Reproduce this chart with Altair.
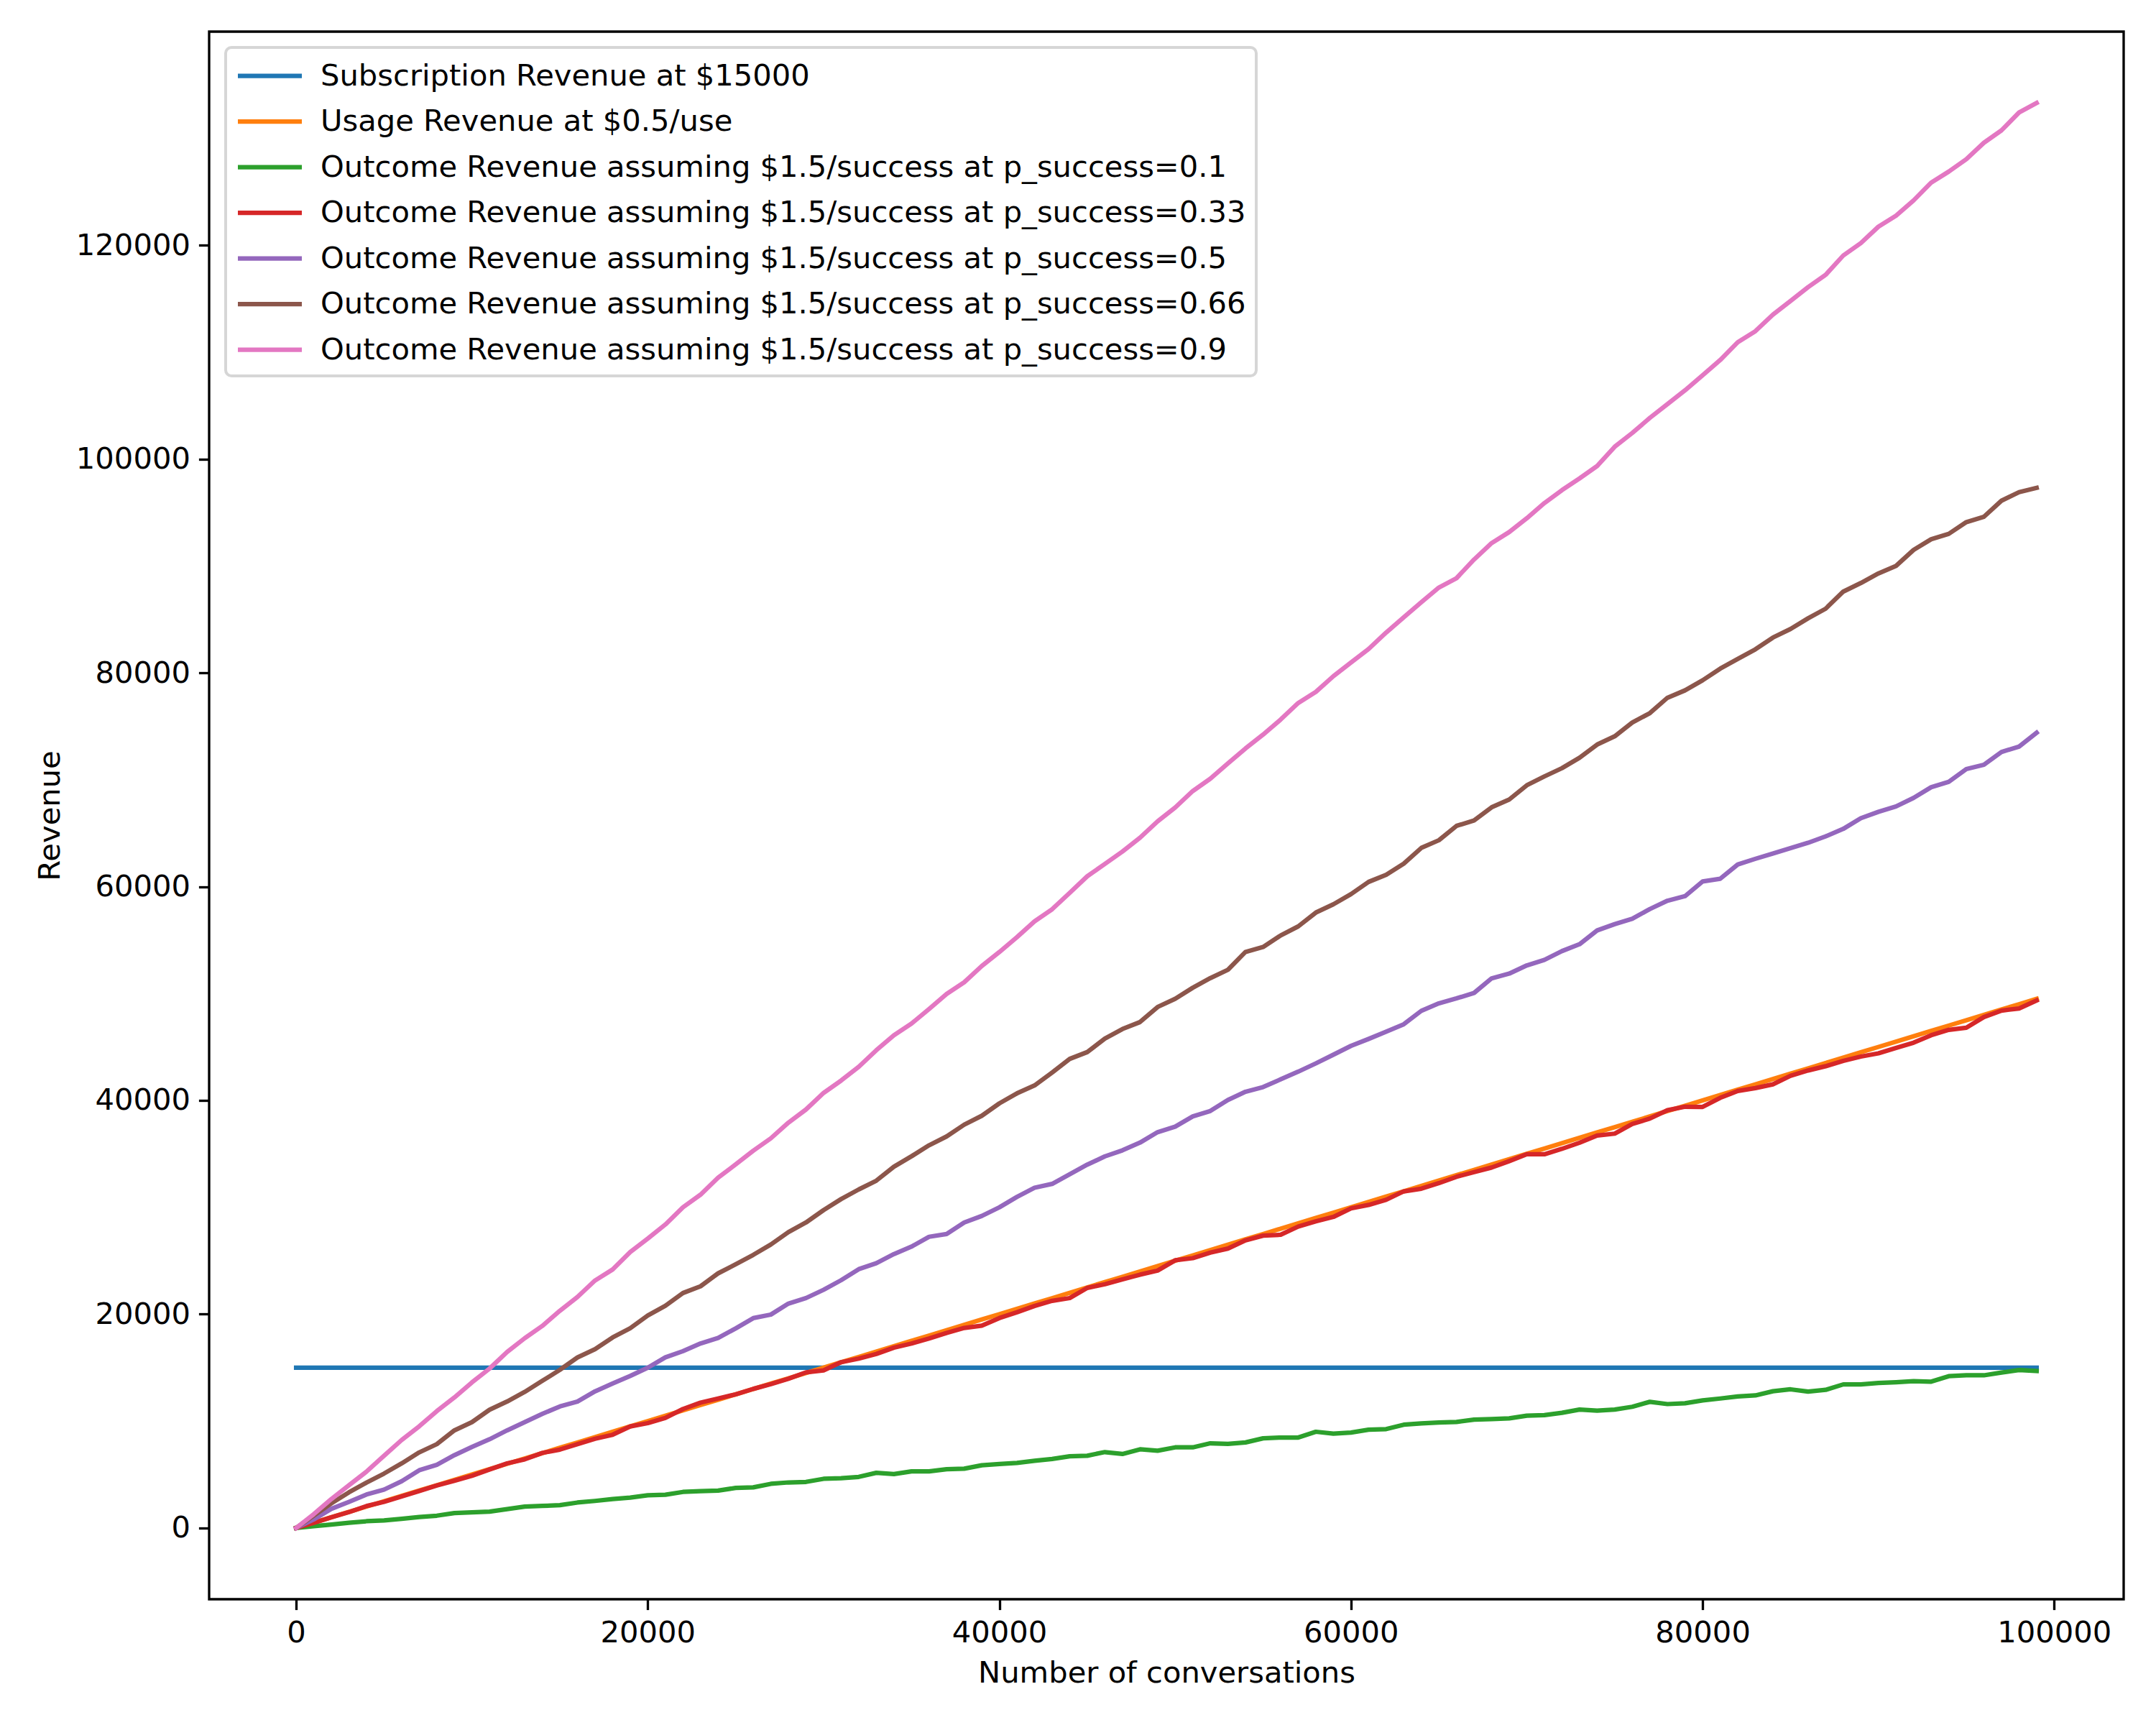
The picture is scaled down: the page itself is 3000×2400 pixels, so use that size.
import altair as alt
import pandas as pd

# ---------------- data ----------------
conversations = list(range(0, 100000, 1000))

subscription_value = 15000
subscription = [subscription_value] * len(conversations)

usage = [
    0, 500, 1000, 1500, 2000, 2500, 3000, 3500, 4000, 4500,
    5000, 5500, 6000, 6500, 7000, 7500, 8000, 8500, 9000, 9500,
    10000, 10500, 11000, 11500, 12000, 12500, 13000, 13500, 14000, 14500,
    15000, 15500, 16000, 16500, 17000, 17500, 18000, 18500, 19000, 19500,
    20000, 20500, 21000, 21500, 22000, 22500, 23000, 23500, 24000, 24500,
    25000, 25500, 26000, 26500, 27000, 27500, 28000, 28500, 29000, 29500,
    30000, 30500, 31000, 31500, 32000, 32500, 33000, 33500, 34000, 34500,
    35000, 35500, 36000, 36500, 37000, 37500, 38000, 38500, 39000, 39500,
    40000, 40500, 41000, 41500, 42000, 42500, 43000, 43500, 44000, 44500,
    45000, 45500, 46000, 46500, 47000, 47500, 48000, 48500, 49000, 49500,
]

outcome_p010 = [
    0, 170, 320, 480, 630, 710, 860, 1020, 1150, 1400,
    1460, 1530, 1760, 2000, 2060, 2130, 2380, 2530, 2710, 2840,
    3060, 3110, 3370, 3440, 3490, 3750, 3800, 4130, 4260, 4310,
    4600, 4650, 4780, 5160, 5040, 5290, 5290, 5500, 5550, 5870,
    5990, 6090, 6280, 6460, 6710, 6760, 7100, 6920, 7360, 7230,
    7540, 7540, 7920, 7870, 8000, 8390, 8460, 8460, 9000, 8830,
    8930, 9190, 9250, 9660, 9790, 9870, 9920, 10130, 10180, 10250,
    10510, 10560, 10770, 11080, 10980, 11080, 11340, 11800, 11590, 11670,
    11930, 12110, 12300, 12400, 12790, 12970, 12760, 12920, 13430, 13430,
    13560, 13640, 13740, 13690, 14200, 14280, 14280, 14540, 14770, 14690,
]

outcome_p033 = [
    0, 480, 1000, 1480, 2050, 2440, 2950, 3460, 3980, 4420,
    4880, 5470, 6040, 6420, 7020, 7330, 7840, 8350, 8720, 9500,
    9810, 10300, 11130, 11720, 12110, 12500, 13010, 13450, 13960, 14560,
    14740, 15510, 15840, 16280, 16870, 17260, 17720, 18240, 18710, 18930,
    19640, 20180, 20770, 21250, 21510, 22460, 22800, 23260, 23700, 24080,
    25040, 25240, 25760, 26140, 26910, 27350, 27430, 28200, 28680, 29100,
    29900, 30220, 30700, 31490, 31740, 32260, 32850, 33290, 33720, 34320,
    34960, 34960, 35470, 36040, 36710, 36890, 37790, 38300, 39080, 39410,
    39390, 40240, 40880, 41150, 41500, 42300, 42800, 43200, 43700, 44100,
    44400, 44900, 45400, 46100, 46600, 46800, 47800, 48400, 48600, 49350,
]

outcome_p050 = [
    0, 800, 1790, 2440, 3130, 3590, 4370, 5400, 5910, 6810,
    7580, 8300, 9130, 9900, 10670, 11370, 11830, 12780, 13510, 14220,
    14990, 15960, 16540, 17260, 17770, 18670, 19630, 19960, 20990, 21510,
    22280, 23180, 24210, 24770, 25620, 26320, 27240, 27500, 28580, 29190,
    30000, 30970, 31830, 32190, 33090, 33990, 34760, 35330, 36050, 37030,
    37540, 38500, 39010, 40040, 40810, 41250, 41970, 42690, 43460, 44280,
    45100, 45750, 46430, 47120, 48380, 49080, 49540, 50050, 51420, 51860,
    52630, 53140, 53970, 54610, 55900, 56490, 57000, 57900, 58680, 59110,
    60480, 60730, 62070, 62600, 63100, 63600, 64100, 64700, 65400, 66400,
    67000, 67500, 68300, 69300, 69800, 71000, 71400, 72600, 73100, 74400,
]

outcome_p066 = [
    0, 1150, 2300, 3330, 4240, 5090, 6040, 7070, 7840, 9130,
    9900, 11060, 11830, 12730, 13760, 14790, 15950, 16720, 17820, 18690,
    19880, 20780, 21980, 22610, 23820, 24670, 25550, 26520, 27680, 28580,
    29740, 30770, 31670, 32490, 33800, 34770, 35800, 36630, 37730, 38560,
    39720, 40660, 41400, 42610, 43880, 44520, 45780, 46680, 47330, 48740,
    49510, 50540, 51440, 52220, 53890, 54350, 55430, 56280, 57570, 58350,
    59300, 60440, 61100, 62150, 63620, 64340, 65680, 66190, 67420, 68150,
    69480, 70310, 71080, 72060, 73290, 74060, 75350, 76230, 77670, 78360,
    79300, 80390, 81300, 82200, 83300, 84100, 85100, 86000, 87600, 88400,
    89300, 90000, 91500, 92500, 93000, 94100, 94600, 96100, 96900, 97300,
]

outcome_p090 = [
    0, 1290, 2700, 3990, 5270, 6760, 8230, 9510, 10930, 12210,
    13620, 14910, 16460, 17750, 18900, 20320, 21610, 23150, 24180, 25810,
    27070, 28390, 30000, 31180, 32770, 34010, 35290, 36450, 37920, 39150,
    40700, 41860, 43140, 44690, 46100, 47180, 48550, 49960, 51050, 52570,
    53880, 55270, 56750, 57880, 59420, 60970, 62120, 63280, 64570, 66110,
    67400, 68940, 70100, 71520, 72930, 74220, 75630, 77180, 78220, 79690,
    80970, 82220, 83770, 85200, 86610, 87980, 88850, 90600, 92140, 93170,
    94460, 95880, 97090, 98190, 99350, 101150, 102440, 103850, 105140, 106430,
    107840, 109260, 110930, 111960, 113510, 114790, 116080, 117240, 119040, 120200,
    121740, 122770, 124190, 125860, 126890, 128050, 129590, 130750, 132420, 133320,
]

series_labels = [
    "Subscription Revenue at $15000",
    "Usage Revenue at $0.5/use",
    "Outcome Revenue assuming $1.5/success at p_success=0.1",
    "Outcome Revenue assuming $1.5/success at p_success=0.33",
    "Outcome Revenue assuming $1.5/success at p_success=0.5",
    "Outcome Revenue assuming $1.5/success at p_success=0.66",
    "Outcome Revenue assuming $1.5/success at p_success=0.9",
]
series_values = [subscription, usage, outcome_p010, outcome_p033,
                 outcome_p050, outcome_p066, outcome_p090]
series_colors = ["#1f77b4", "#ff7f0e", "#2ca02c", "#d62728",
                 "#9467bd", "#8c564b", "#e377c2"]

x_ticks = [0, 20000, 40000, 60000, 80000, 100000]
y_ticks = [0, 20000, 40000, 60000, 80000, 100000, 120000]

# ---------------- long table ----------------
rows = []
for order, (lab, vals) in enumerate(zip(series_labels, series_values)):
    for c, v in zip(conversations, vals):
        rows.append({"conversations": c, "revenue": v, "series": lab, "k": order})
df = pd.DataFrame(rows)

# matplotlib-like 5% margins
xmin, xmax = min(conversations), max(conversations)
xr = xmax - xmin
all_vals = [v for s in series_values for v in s]
ymin, ymax = min(all_vals), max(all_vals)
yr = ymax - ymin

FS = 41.67
FONT = "DejaVu Sans"
LW = 6.25

chart = alt.Chart(df).mark_line(
    strokeWidth=LW, strokeCap="square", strokeJoin="round"
).encode(
    x=alt.X("conversations:Q",
            scale=alt.Scale(domain=[xmin - 0.05 * xr, xmax + 0.05 * xr], nice=False, zero=False),
            axis=alt.Axis(title="Number of conversations", values=x_ticks, format="d")),
    y=alt.Y("revenue:Q",
            scale=alt.Scale(domain=[ymin - 0.05 * yr, ymax + 0.05 * yr], nice=False, zero=False),
            axis=alt.Axis(title="Revenue", values=y_ticks, format="d")),
    color=alt.Color("series:N",
                    scale=alt.Scale(domain=series_labels, range=series_colors),
                    title=None,
                    legend=alt.Legend(orient="none", legendX=23, legendY=22,
                                      symbolType="M-2,0L2,0", symbolSize=1980,
                                      symbolStrokeWidth=LW, symbolOffset=22,
                                      labelOffset=45, rowPadding=15.5,
                                      labelFont=FONT, labelFontSize=FS,
                                      labelColor="black", labelLimit=3000)),
    detail="k:O",
).properties(
    width=2664, height=2181,
    autosize=alt.AutoSizeParams(type="none"),
    padding={"left": 283, "top": 36, "right": 37, "bottom": 167},
).configure_view(
    stroke="black", strokeWidth=3.33
).configure_axis(
    domain=False, grid=False,
    ticks=True, tickSize=14.6, tickWidth=3.33, tickColor="black",
    labelFont=FONT, labelFontSize=FS, labelColor="black", labelPadding=12,
    titleFont=FONT, titleFontSize=FS, titleColor="black", titleFontWeight="normal",
    titlePadding=14,
).configure_legend(
    fillColor="rgba(255,255,255,0.8)", strokeColor="#d6d6d6", strokeWidth=4,
    cornerRadius=8, padding=14,
)

chart.save("out.html", embed_options={"renderer": "svg", "actions": False})
